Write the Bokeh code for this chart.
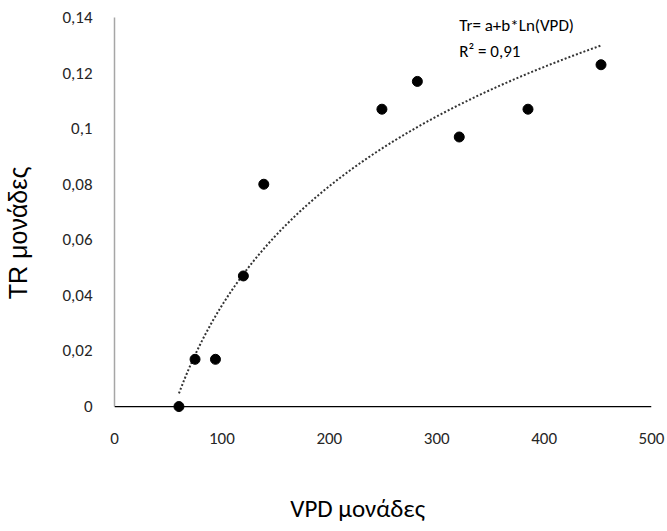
import numpy as np
from bokeh.plotting import figure
from bokeh.models import Range1d, Label, FixedTicker, CustomJSTickFormatter, Span
from bokeh.embed import file_html
from bokeh.resources import INLINE

# data
vpd = [60, 75, 94, 120, 139, 249, 282, 321, 385, 453]
tr = [0.0, 0.017, 0.017, 0.047, 0.080, 0.107, 0.117, 0.097, 0.107, 0.123]
x_ticks = [0, 100, 200, 300, 400, 500]
y_ticks = [0, 0.02, 0.04, 0.06, 0.08, 0.10, 0.12, 0.14]

FONT = "Carlito, 'Liberation Sans Narrow', Lato, sans-serif"
NB = "\u00a0"

# logarithmic trend line fitted to the data (Excel-style)
b, a = np.polyfit(np.log(vpd), tr, 1)
xs = np.linspace(min(vpd), max(vpd), 200)
ys = a + b * np.log(xs)

p = figure(width=667, height=531, output_backend="svg", toolbar_location=None,
           x_range=Range1d(0, 500), y_range=Range1d(-0.0025, 0.14),
           min_border_left=114, min_border_right=16, min_border_top=17, min_border_bottom=118)
p.outline_line_color = None
p.grid.visible = False
p.background_fill_color = "white"
p.border_fill_color = "white"

p.add_layout(Span(location=0, dimension="width", line_color="black", line_width=1.3))
p.line(xs, ys, line_color="#333333", line_width=2, line_dash="2 2")
p.scatter(vpd, tr, size=10, color="black")

xa = p.xaxis[0]
xa.ticker = FixedTicker(ticks=x_ticks)
xa.axis_line_color = None
xa.major_tick_line_color = None
xa.minor_tick_line_color = None
xa.major_label_standoff = 13
xa.major_label_text_font = FONT
xa.major_label_text_font_size = "17px"
xa.major_label_text_color = "#262626"
xa.axis_label = "VPD μονάδες" + NB * 9
xa.axis_label_standoff = 46
xa.axis_label_text_font = FONT
xa.axis_label_text_font_size = "25px"
xa.axis_label_text_font_style = "normal"
xa.axis_label_text_color = "black"

ya = p.yaxis[0]
ya.ticker = FixedTicker(ticks=y_ticks)
ya.bounds = (0, 0.14)
ya.axis_line_color = "#a6a6a6"
ya.axis_line_width = 1.5
ya.major_tick_line_color = None
ya.minor_tick_line_color = None
ya.major_label_standoff = 16
ya.major_label_text_font = FONT
ya.major_label_text_font_size = "17px"
ya.major_label_text_color = "#262626"
ya.formatter = CustomJSTickFormatter(code="""
    if (tick == 0) return '0';
    let s = (Math.round(tick*100)/100).toString();
    return s.replace('.', ',');
""")
ya.axis_label = "TR μονάδες" + NB * 5
ya.axis_label_standoff = 27
ya.axis_label_text_font = "'Liberation Sans', Arial, sans-serif"
ya.axis_label_text_font_size = "25px"
ya.axis_label_text_font_style = "normal"
ya.axis_label_text_color = "black"

p.add_layout(Label(x=321, y=0.1371, text="Tr= a+b*Ln(VPD)",
                   text_align="left", text_baseline="middle",
                   text_font=FONT, text_font_size="17px", text_color="black"))
p.add_layout(Label(x=321, y=0.1277, text="R² = 0,91",
                   text_align="left", text_baseline="middle",
                   text_font=FONT, text_font_size="17px", text_color="black"))

open("out.html", "w").write(file_html(p, INLINE))
